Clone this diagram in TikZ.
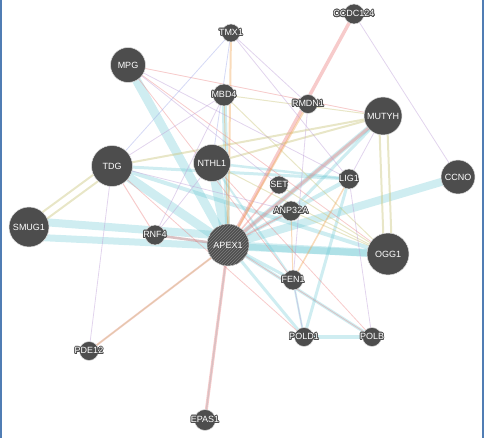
\documentclass[tikz,border=0pt]{standalone}
\usepackage{fontspec}
\setsansfont{Liberation Sans}
\usepackage{xcolor}
\usepackage{tikz}
\usepackage{contour}
\contourlength{0.8pt}
\usetikzlibrary{patterns,backgrounds,calc}

\definecolor{nodegray}{RGB}{77,77,77}
\definecolor{frameblue}{RGB}{80,125,180}
\definecolor{cyanE}{RGB}{110,200,212}
\definecolor{pinkE}{RGB}{235,125,125}
\definecolor{yelE}{RGB}{205,200,130}
\definecolor{lavE}{RGB}{190,160,215}
\definecolor{oraE}{RGB}{240,165,85}
\definecolor{bluE}{RGB}{150,160,230}

\begin{document}
\begin{tikzpicture}[x=1pt,y=-1pt,
  gene/.style={circle,fill=nodegray,draw=white!75!gray,line width=0.5pt,
    minimum size=#1,inner sep=0pt},
  lbl/.style={text=white,inner sep=0pt,font=\sffamily\fontsize{9}{10}\selectfont},
  cyanedge/.style={draw=cyanE,opacity=0.33},
  pinkedge/.style={draw=pinkE,opacity=0.4},
  yeledge/.style={draw=yelE,opacity=0.45},
  lavedge/.style={draw=lavE,opacity=0.45},
  oraedge/.style={draw=oraE,opacity=0.4},
  bluedge/.style={draw=bluE,opacity=0.4}]
  \useasboundingbox (0,0) rectangle (484,438);
  \draw[frameblue,line width=1.5pt] (1,0) -- (1,438);
  \draw[frameblue,line width=1.5pt] (483,0) -- (483,438);

  % genes
  \node[gene=20pt,label={[lbl]center:\contour{nodegray}{CCDC124}}] (ccdc)  at (354,14)  {};
  \node[gene=18pt,label={[lbl]center:\contour{nodegray}{TMX1}}]    (tmx)   at (231,33)  {};
  \node[gene=35pt,label={[lbl]center:MPG}]                          (mpg)   at (128,65)  {};
  \node[gene=22pt,label={[lbl]center:\contour{nodegray}{MBD4}}]    (mbd)   at (224,95)  {};
  \node[gene=19pt,label={[lbl]center:\contour{nodegray}{RMDN1}}]   (rmdn)  at (308,104) {};
  \node[gene=38pt,label={[lbl]center:MUTYH}]                        (mutyh) at (383,116) {};
  \node[gene=41pt,label={[lbl]center:TDG}]                          (tdg)   at (112,166) {};
  \node[gene=37pt,label={[lbl]center:NTHL1}]                        (nthl)  at (212,163) {};
  \node[gene=18pt,label={[lbl]center:\contour{nodegray}{SET}}]     (set)   at (279,185) {};
  \node[gene=20pt,label={[lbl]center:\contour{nodegray}{LIG1}}]    (lig)   at (349,179) {};
  \node[gene=34pt,label={[lbl]center:CCNO}]                         (ccno)  at (458,177) {};
  \node[gene=40pt,label={[lbl]center:SMUG1}]                        (smug)  at (29,227)  {};
  \node[gene=20pt,label={[lbl]center:\contour{nodegray}{RNF4}}]    (rnf)   at (155,235) {};
  \node[gene=20pt,label={[lbl]center:\contour{nodegray}{ANP32A}}]  (anp)   at (291,211) {};
  \node[gene=42pt,postaction={pattern=north east lines,pattern color=gray},
        label={[lbl]center:APEX1}]                                  (apex)  at (228,245) {};
  \node[gene=42pt,label={[lbl]center:OGG1}]                         (ogg)   at (388,254) {};
  \node[gene=20pt,label={[lbl]center:\contour{nodegray}{FEN1}}]    (fen)   at (293,280) {};
  \node[gene=19pt,label={[lbl]center:\contour{nodegray}{POLD1}}]   (pold)  at (304,337) {};
  \node[gene=19pt,label={[lbl]center:\contour{nodegray}{POLB}}]    (polb)  at (372,337) {};
  \node[gene=19pt,label={[lbl]center:\contour{nodegray}{PDE12}}]   (pde)   at (89,351)  {};
  \node[gene=21pt,label={[lbl]center:\contour{nodegray}{EPAS1}}]   (epas)  at (205,420) {};

  \begin{pgfonlayer}{background}
    % co-expression
    \draw[cyanedge,line width=8pt] ($(smug.center)+(0,-6)$) -- ($(apex.center)+(0,-9)$);
    \draw[cyanedge,line width=7pt] ($(smug.center)+(0,10)$) -- ($(ogg.center)+(0,0)$);
    \foreach \a/\b/\w in {mpg/apex/9,tdg/apex/9,nthl/apex/10,
        ccno/apex/8,apex/ogg/8,mbd/apex/5,mutyh/apex/5,lig/apex/4,apex/fen/3,
        apex/pold/3,apex/polb/3,tdg/ogg/4,tdg/lig/3,lig/pold/3,pold/polb/4,
        fen/pold/2,nthl/lig/2.5,mutyh/anp/3,rnf/apex/2.5,epas/apex/1.5,nthl/fen/2}
      \draw[cyanedge,line width=\w pt] (\a.center) -- (\b.center);
    % physical
    \foreach \a/\b/\w in {ccdc/apex/3.5,mutyh/apex/3,apex/epas/3,apex/pde/2,
        apex/rnf/2.5,tdg/rnf/1,mpg/ogg/0.8,mpg/mutyh/0.8,mpg/fen/0.8,set/apex/1.5,
        apex/polb/0.8,nthl/polb/0.8,anp/apex/1.5,tdg/pold/0.8}
      \draw[pinkedge,line width=\w pt] (\a.center) -- (\b.center);
    % shared domains
    \foreach \a/\b in {tdg/smug,mutyh/ogg} {
      \draw[yeledge,line width=2pt] ($(\a.center)!4pt!90:(\b.center)$) -- ($(\b.center)!4pt!-90:(\a.center)$);
      \draw[yeledge,line width=2pt] ($(\a.center)!4pt!-90:(\b.center)$) -- ($(\b.center)!4pt!90:(\a.center)$);
    }
    \foreach \a/\b/\w in {tdg/mutyh/2,nthl/mutyh/2,mbd/mutyh/1,pde/apex/1,anp/ogg/1,
        set/ogg/1,mbd/ogg/1,nthl/ogg/1}
      \draw[yeledge,line width=\w pt] (\a.center) -- (\b.center);
    % pathways
    \foreach \a/\b in {ccdc/ccno,tmx/rmdn,mbd/tdg,pde/tdg,rnf/mbd,fen/pold,lig/polb,
        rmdn/fen,mpg/set,mpg/lig,tdg/anp,mutyh/lig,rnf/nthl,tmx/lig}
      \draw[lavedge,line width=0.8pt] (\a.center) -- (\b.center);
    \foreach \a/\b in {tmx/tdg,tmx/nthl}
      \draw[bluedge,line width=0.8pt] (\a.center) -- (\b.center);
    \foreach \a/\b/\w in {tmx/apex/2,apex/rmdn/2,fen/lig/1.5,mbd/apex/1,fen/anp/1}
      \draw[oraedge,line width=\w pt] (\a.center) -- (\b.center);
  \end{pgfonlayer}
\end{tikzpicture}
\end{document}
